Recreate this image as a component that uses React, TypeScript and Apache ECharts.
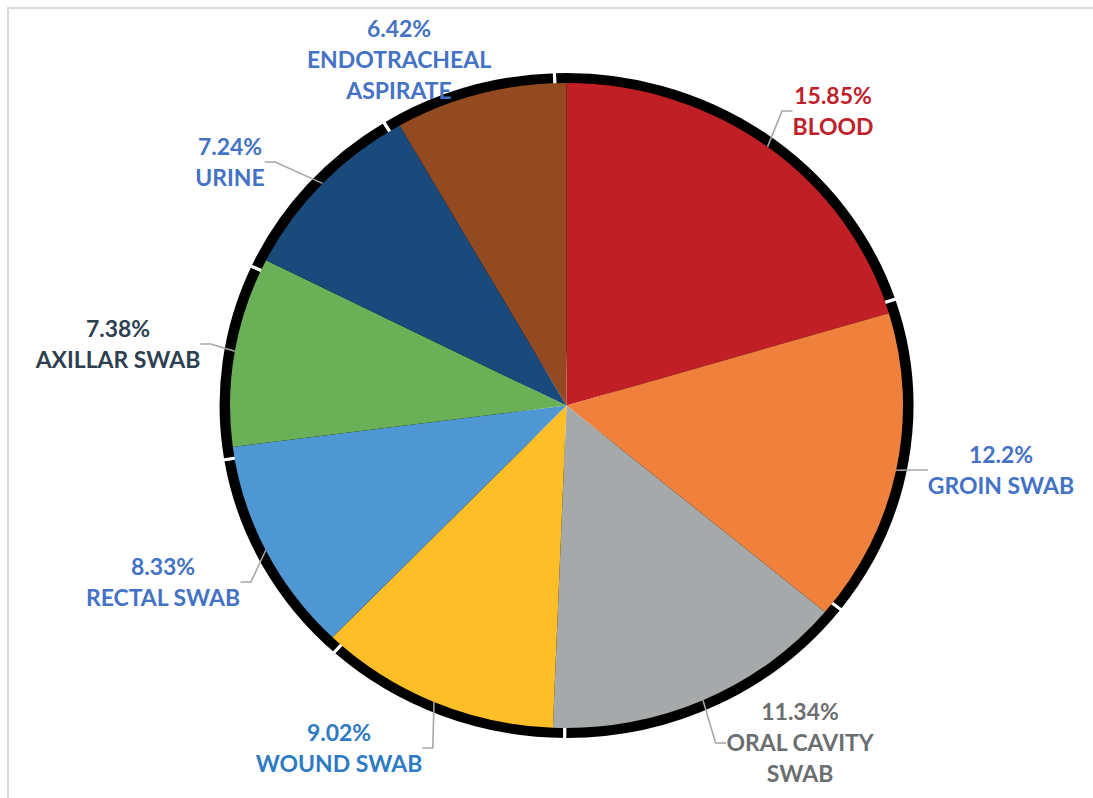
import React, { useEffect, useRef } from "react";
import * as echarts from "echarts";

// ---- data ----
const categories = [
  "BLOOD",
  "GROIN SWAB",
  "ORAL CAVITY\nSWAB",
  "WOUND SWAB",
  "RECTAL SWAB",
  "AXILLAR SWAB",
  "URINE",
  "ENDOTRACHEAL\nASPIRATE",
];
const values = [15.85, 12.2, 11.34, 9.02, 8.33, 7.38, 7.24, 6.42];

// ---- styles ----
const sliceColors = ["#C01F26", "#F0813C", "#A6A9AA", "#FDBE27", "#4F97D3", "#6AB056", "#1A4A7C", "#944A20"];
const labelColors = ["#C0202A", "#4472C4", "#6B6E70", "#2E7BC4", "#4472C4", "#2E3F52", "#4472C4", "#4472C4"];
// label block centres in page pixels
const labelCenters = [
  [833, 111],
  [1001, 470],
  [800, 743],
  [339, 748],
  [163, 582],
  [118, 344],
  [230, 162],
  [399, 60],
];
const showLeader = [true, true, true, true, true, true, true, false];

const SX = 1.0434; // horizontal stretch of the original picture
const W = 1093;
const H = 798;

export default function App() {
  const ref = useRef<HTMLDivElement>(null);
  useEffect(() => {
    if (!ref.current) return;
    const chart = echarts.init(ref.current, null, { renderer: "svg" });
    const cx = 566.5 / SX;
    const cy = 405.5;
    const option: any = {
      animation: false,
      backgroundColor: "#ffffff",
      graphic: [
        {
          type: "rect",
          silent: true,
          shape: { x: 8 / SX, y: 8, width: 3000, height: 3000 },
          style: { fill: "none", stroke: "#D9D9D9", lineWidth: 2 },
          z: -10,
        },
      ],
      series: [
        {
          type: "pie",
          silent: true,
          z: 1,
          center: [cx, cy],
          radius: 334,
          startAngle: 92,
          clockwise: true,
          label: { show: false },
          labelLine: { show: false },
          itemStyle: { color: "#000000", borderColor: "#ffffff", borderWidth: 3 },
          data: categories.map((c, i) => ({ name: c, value: values[i] })),
        },
        {
          type: "pie",
          z: 2,
          center: [cx, cy],
          radius: 322.5,
          startAngle: 90,
          clockwise: true,
          avoidLabelOverlap: false,
          label: {
            show: true,
            formatter: "{c}%\n{b}",
            fontFamily: "Lato",
            fontWeight: "bold",
            fontSize: 22,
            lineHeight: 31,
            align: "center",
          },
          labelLine: {
            show: true,
            length: 10,
            length2: 10,
            lineStyle: { color: "#A6A6A6", width: 1.5 },
          },
          labelLayout: (params: any) => {
            const i = params.dataIndex;
            return {
              x: labelCenters[i][0] / SX,
              y: labelCenters[i][1],
              align: "center",
              verticalAlign: "middle",
            };
          },
          data: categories.map((c, i) => ({
            name: c,
            value: values[i],
            itemStyle: { color: sliceColors[i] },
            label: { color: labelColors[i] },
            labelLine: { show: showLeader[i] },
          })),
        },
      ],
    };
    chart.setOption(option);
    return () => chart.dispose();
  }, []);
  return (
    <div
      style={{
        position: "absolute",
        left: 0,
        top: 0,
        width: W,
        height: H,
        overflow: "hidden",
        background: "#fff",
      }}
    >
      <div
        ref={ref}
        style={{
          width: W / SX,
          height: H,
          transform: `scaleX(${SX})`,
          transformOrigin: "0 0",
        }}
      />
    </div>
  );
}
